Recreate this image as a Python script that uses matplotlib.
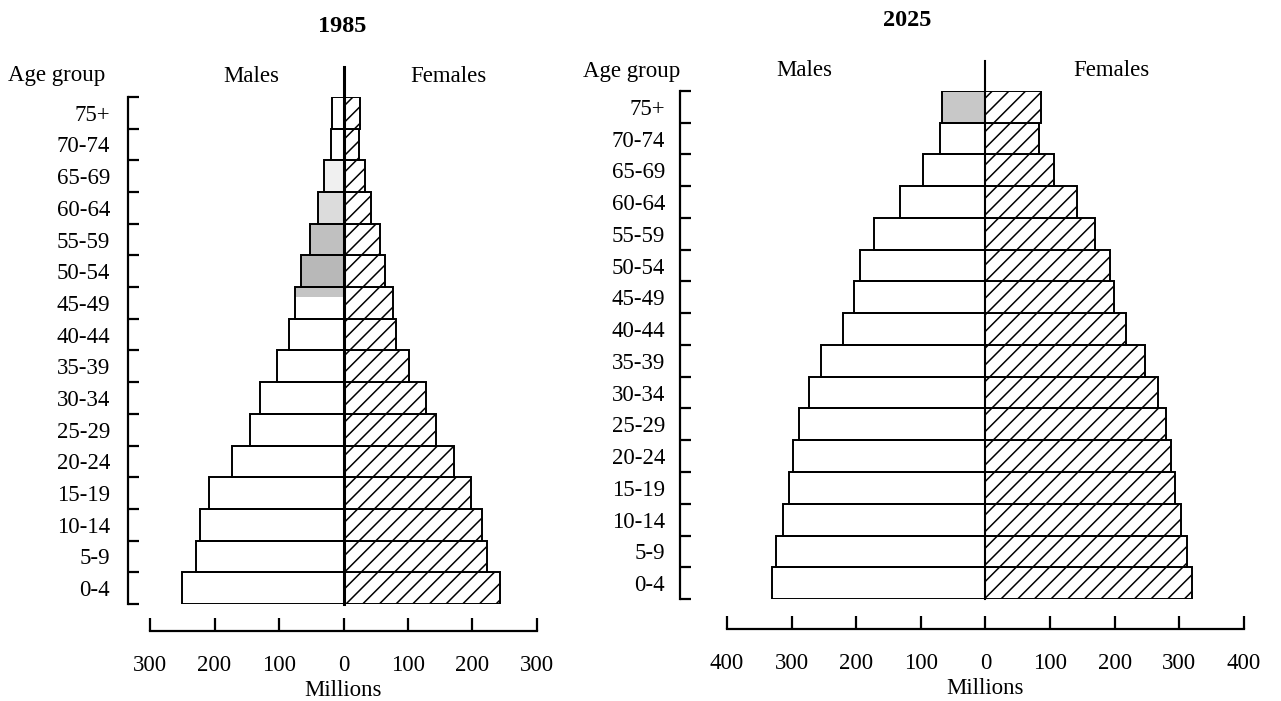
"""Population pyramids, 1985 and 2025 (millions)."""

import matplotlib

matplotlib.use("Agg")
import matplotlib.pyplot as plt
import matplotlib.transforms as mtransforms

plt.rcParams["font.family"] = ["Liberation Serif", "DejaVu Serif"]
plt.rcParams["hatch.linewidth"] = 1.1

# age groups, youngest first (bottom of the pyramid)
age_groups = ["0-4", "5-9", "10-14", "15-19", "20-24", "25-29", "30-34",
              "35-39", "40-44", "45-49", "50-54", "55-59", "60-64",
              "65-69", "70-74", "75+"]

males_1985 = [250, 229, 223, 209, 173, 145, 129, 103, 84, 75, 66, 52, 39,
              30, 19, 18]
females_1985 = [242, 222, 215, 198, 171, 144, 128, 101, 82, 76, 65, 56, 43,
                34, 24, 25]

males_2025 = [331, 324, 314, 304, 298, 288, 273, 254, 221, 203, 194, 173,
              133, 97, 71, 68]
females_2025 = [320, 312, 303, 294, 287, 280, 267, 247, 218, 199, 192, 170,
                141, 106, 83, 86]

# stippled part of the male bars: grey level and share of the bar (from top)
shade_1985 = ["white"] * 9 + ["#c4c4c4", "#b8b8b8", "#c0c0c0", "#dcdcdc",
                              "#f0f0f0", "white", "white"]
shade_frac_1985 = [0] * 9 + [0.3, 1, 1, 1, 1, 0, 0]
shade_2025 = ["white"] * 15 + ["#c8c8c8"]
shade_frac_2025 = [0] * 15 + [1]

PX = 0.72  # points per pixel at dpi 100
FS = 16.5


def draw_pyramid(ax, males, females, shades, fracs, limit, ticks,
                 left_out, bottom_out, ylab_pad, males_x, females_x,
                 center_lw):
    n = len(age_groups)
    pos = list(range(n))

    # stippled overlays on male side
    for i, (m, c, f) in enumerate(zip(males, shades, fracs)):
        if f > 0:
            ax.barh(i + 1 - f, -m, height=f, align="edge", color=c,
                    linewidth=0, zorder=1)
    ax.barh(pos, [-m for m in males], height=1, align="edge",
            facecolor="none", edgecolor="black", linewidth=1.4, zorder=2)
    ax.barh(pos, females, height=1, align="edge", facecolor="white",
            edgecolor="black", linewidth=1.4, hatch="//", zorder=2)

    ax.axvline(0, ymin=0, ymax=1.06, color="black", linewidth=center_lw,
               clip_on=False, zorder=3)

    ax.set_xlim(-limit, limit)
    ax.set_ylim(0, n)

    for side in ("top", "right"):
        ax.spines[side].set_visible(False)
    ax.spines["left"].set_position(("outward", left_out * PX))
    ax.spines["bottom"].set_position(("outward", bottom_out * PX))
    ax.spines["left"].set_linewidth(1.6)
    ax.spines["bottom"].set_linewidth(1.6)
    ax.spines["left"].set_bounds(0, n)
    ax.spines["bottom"].set_bounds(-limit, limit)

    ax.set_yticks(range(n + 1))
    ax.set_yticklabels([])
    ax.set_yticks([p + 0.5 for p in pos], minor=True)
    ax.set_yticklabels(age_groups, minor=True)
    ax.tick_params(axis="y", which="major", direction="in", length=11 * PX,
                   width=1.6)
    ax.tick_params(axis="y", which="minor", length=0, pad=ylab_pad * PX,
                   labelsize=FS)

    ax.set_xticks(ticks)
    ax.set_xticklabels([str(abs(t)) for t in ticks])
    ax.tick_params(axis="x", direction="in", length=13 * PX, width=1.6,
                   pad=24 * PX, labelsize=FS)
    ax.set_xlabel("Millions", fontsize=FS, labelpad=3)

    trans = mtransforms.blended_transform_factory(ax.transData, ax.transAxes)
    ax.text(males_x, 1.04, "Males", transform=trans, ha="center",
            va="center", fontsize=FS)
    ax.text(females_x, 1.04, "Females", transform=trans, ha="center",
            va="center", fontsize=FS)


fig = plt.figure(figsize=(12.81, 7.01), dpi=100)

ax1 = fig.add_axes([0.1171, 0.1384, 0.3021, 0.7233])
draw_pyramid(ax1, males_1985, females_1985, shade_1985, shade_frac_1985,
             300, [-300, -200, -100, 0, 100, 200, 300], 22, 27, 18,
             -143, 163, 2.2)

ax2 = fig.add_axes([0.5675, 0.1455, 0.4036, 0.7247])
draw_pyramid(ax2, males_2025, females_2025, shade_2025, shade_frac_2025,
             400, [-400, -300, -200, -100, 0, 100, 200, 300, 400], 47, 30, 15,
             -280, 195, 1.5)

fig.text(8 / 1281, 1 - 75 / 701, "Age group", ha="left", va="center",
         fontsize=FS)
fig.text(583 / 1281, 1 - 72 / 701, "Age group", ha="left", va="center",
         fontsize=FS)
fig.text(342 / 1281, 1 - 27 / 701, "1985", ha="center", va="center",
         fontsize=17.5, fontweight="bold")
fig.text(907 / 1281, 1 - 20 / 701, "2025", ha="center", va="center",
         fontsize=17.5, fontweight="bold")

fig.savefig("out.png", dpi=100, facecolor="white")
